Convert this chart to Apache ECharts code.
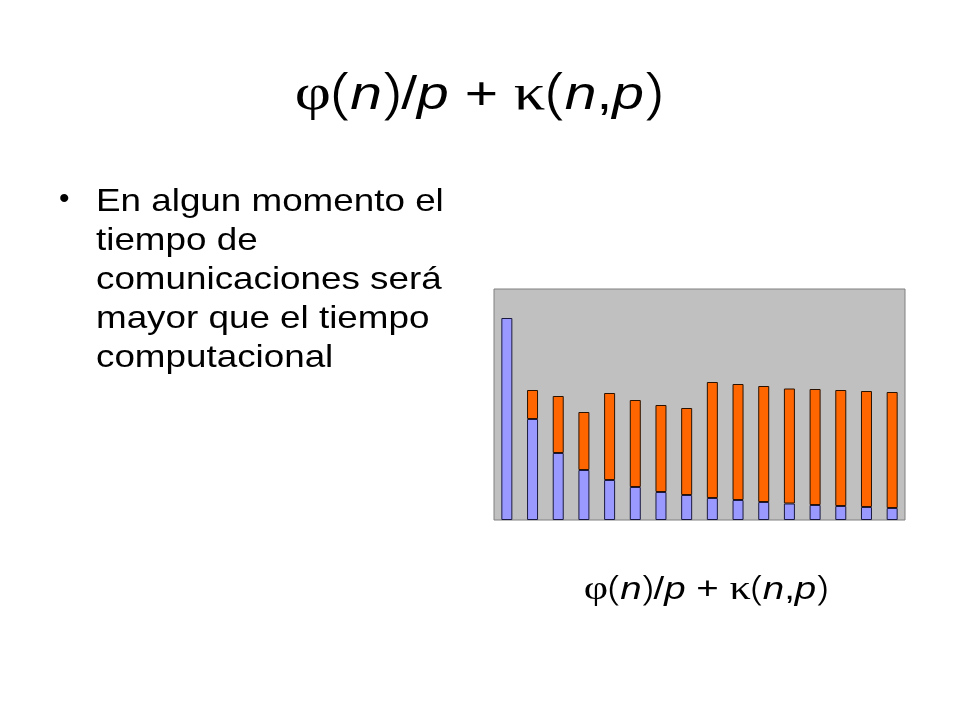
<!DOCTYPE html>
<html>
<head>
<meta charset="utf-8">
<script src="https://cdn.jsdelivr.net/npm/echarts@6/dist/echarts.min.js"></script>
<style>
  html, body { margin: 0; padding: 0; background: #fff; }
  #chart { width: 960px; height: 720px; }
</style>
</head>
<body>
<div id="chart"></div>
<script>
// processor counts (no tick labels are shown in the picture)
const procs = ['1', '2', '3', '4', '5', '6', '7', '8', '9', '10', '11', '12', '13', '14', '15', '16'];
// computation time phi(n)/p (blue, bottom of each bar)
const compTime = [202, 101, 67, 50, 40, 33, 28, 25, 22, 20, 18, 16.5, 15, 14, 13, 12];
// communication time kappa(n,p) (orange, stacked on top)
const commTime = ['-', 29, 57, 58, 87, 87, 87, 87, 116, 116, 116, 115, 116, 116, 116, 116];

const bulletLines = [
  'En algun momento el',
  'tiempo de',
  'comunicaciones será',
  'mayor que el tiempo',
  'computacional'
];

const font = '"Liberation Sans", Arial, sans-serif';
const serif = '"Liberation Serif", "DejaVu Serif", serif';
// rich styles for the formula: g = greek (serif), b = brackets, i = italic, r = regular
const formulaRich = (size, paren) => ({
  g: { fontSize: size * 1.1, fontFamily: serif, fill: '#000' },
  b: { fontSize: paren, fontFamily: '"Noto Sans", sans-serif', fontWeight: 300, fill: '#000' },
  r: { fontSize: size, fontFamily: font, fill: '#000' },
  i: { fontSize: size, fontFamily: font, fontStyle: 'italic', fill: '#000' }
});
const formula = '{g|φ}{b|(}{i|n}{b|)}{r|/}{i|p}{r| + }{g|κ}{b|(}{i|n}{r|,}{i|p}{b|)}';

const chart = echarts.init(document.getElementById('chart'));

chart.setOption({
  animation: false,
  backgroundColor: '#ffffff',
  grid: {
    left: 494,
    right: 55,
    top: 289,
    bottom: 200,
    show: true,
    backgroundColor: '#c0c0c0',
    borderColor: '#808080',
    borderWidth: 1
  },
  xAxis: {
    type: 'category',
    data: procs,
    axisLine: { show: false },
    axisTick: { show: false },
    axisLabel: { show: false }
  },
  yAxis: {
    type: 'value',
    min: 0,
    max: 231,
    splitLine: { show: false },
    axisLine: { show: false },
    axisTick: { show: false },
    axisLabel: { show: false }
  },
  series: [
    {
      name: 'computo',
      type: 'bar',
      stack: 'total',
      barWidth: 11,
      data: compTime,
      itemStyle: { color: '#9999ff', borderColor: '#1a1a40', borderWidth: 1 }
    },
    {
      name: 'comunicacion',
      type: 'bar',
      stack: 'total',
      barWidth: 11,
      data: commTime,
      itemStyle: { color: '#ff6600', borderColor: '#2a1200', borderWidth: 1 }
    }
  ],
  graphic: [
    {
      type: 'text',
      x: 479,
      y: 96,
      scaleX: 1.24,
      style: {
        text: formula,
        rich: formulaRich(46, 56),
        align: 'center',
        verticalAlign: 'middle'
      }
    },
    {
      type: 'text',
      x: 59,
      y: 200,
      style: {
        text: '•',
        fontSize: 30,
        fontFamily: font,
        fill: '#000',
        verticalAlign: 'middle'
      }
    },
    {
      type: 'text',
      x: 96,
      y: 183,
      scaleX: 1.15,
      style: {
        text: bulletLines.join('\n'),
        fontSize: 32,
        lineHeight: 39,
        fontFamily: font,
        fill: '#000',
        verticalAlign: 'top'
      }
    },
    {
      type: 'text',
      x: 706,
      y: 590,
      scaleX: 1.24,
      style: {
        text: formula,
        rich: formulaRich(31, 35),
        align: 'center',
        verticalAlign: 'middle'
      }
    }
  ]
});
</script>
</body>
</html>
